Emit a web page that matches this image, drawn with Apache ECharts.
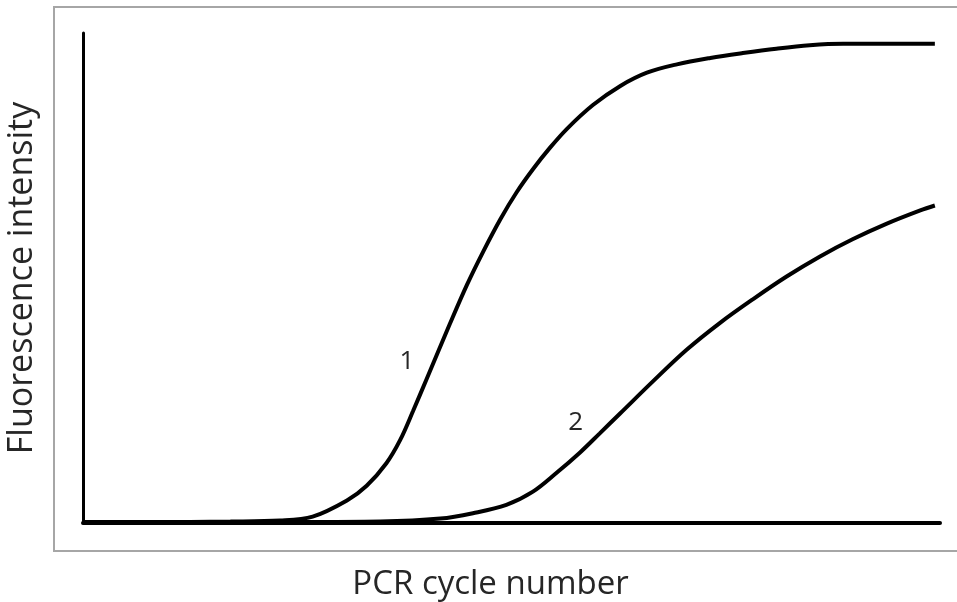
<!DOCTYPE html>
<html><head><meta charset="utf-8">
<script src="https://cdn.jsdelivr.net/npm/echarts@6/dist/echarts.min.js"></script>
<style>html,body{margin:0;padding:0;background:#fff}#c{width:957px;height:602px}</style>
</head><body><div id="c"></div>
<script>
// curve 1 (early amplification)
const curve1X = [0, 7.8, 17.2, 23.0, 26.8, 30.8, 33.1, 35.4, 37.0, 38.5, 40.1, 42.8, 44.8, 46.7, 48.7, 50.6, 52.5, 54.5, 56.5, 59.5, 62.7, 65.8, 69.3, 73.2, 77.0, 80.9, 84.8, 88.7, 99.4];
const curve1Y = [0.2, 0.2, 0.3, 0.5, 1.3, 4.6, 7.6, 12.2, 16.9, 22.8, 29.4, 40.6, 48.6, 55.4, 62.0, 67.5, 72.2, 76.6, 80.5, 85.3, 89.2, 91.9, 93.6, 94.9, 95.9, 96.8, 97.5, 97.8, 97.8];
// curve 2 (late amplification)
const curve2X = [0, 25.3, 34.7, 41.7, 45.5, 49.4, 52.5, 55.3, 58.0, 60.3, 62.7, 66.5, 70.4, 74.3, 78.2, 82.1, 86.0, 89.8, 93.8, 97.7, 99.4];
const curve2Y = [0.2, 0.2, 0.3, 0.9, 2.0, 3.7, 6.4, 10.3, 14.4, 18.3, 22.4, 28.9, 35.3, 40.8, 45.7, 50.3, 54.4, 57.9, 61.1, 63.8, 64.8];
const curveLabels = ['1', '2'];
const labelPos = [[37.8, 32.9], [57.5, 20.4]];
const xTitle = 'PCR cycle number';
const yTitle = 'Fluorescence intensity';

const zip = (xs, ys) => xs.map((x, i) => [x, ys[i]]);
const chart = echarts.init(document.getElementById('c'));
const font = '"Open Sans", "Noto Sans", sans-serif';
const mkSeries = (xs, ys, idx) => ({
  type: 'line', data: zip(xs, ys), showSymbol: false, smooth: 0.35,
  lineStyle: { color: '#000', width: 4 }, z: 3,
  markPoint: {
    symbol: 'circle', symbolSize: 0,
    label: { show: true, formatter: curveLabels[idx], color: '#262626', fontSize: 26, fontFamily: font, position: 'inside' },
    data: [{ coord: labelPos[idx] }]
  }
});
chart.setOption({
  animation: false,
  backgroundColor: '#fff',
  graphic: [{ type: 'rect', shape: { x: 54, y: 7, width: 920, height: 544 }, style: { fill: 'none', stroke: '#a6a6a6', lineWidth: 2 }, z: -1 }],
  grid: { left: 83, right: 17, top: 33, bottom: 79, containLabel: false, outerBoundsMode: 'none' },
  xAxis: {
    type: 'value', min: 0, max: 100,
    name: xTitle, nameLocation: 'middle', nameGap: 45,
    nameTextStyle: { fontSize: 33, color: '#262626', fontFamily: font, padding: [0, 42, 0, 0] },
    axisLine: { lineStyle: { color: '#000', width: 4 } },
    axisTick: { show: false }, axisLabel: { show: false }, splitLine: { show: false }
  },
  yAxis: {
    type: 'value', min: 0, max: 100,
    name: yTitle, nameLocation: 'middle', nameGap: 44,
    nameTextStyle: { fontSize: 34, color: '#262626', fontFamily: font },
    axisLine: { show: true, lineStyle: { color: '#000', width: 3 } },
    axisTick: { show: false }, axisLabel: { show: false }, splitLine: { show: false }
  },
  series: [mkSeries(curve1X, curve1Y, 0), mkSeries(curve2X, curve2Y, 1)]
});
</script></body></html>
